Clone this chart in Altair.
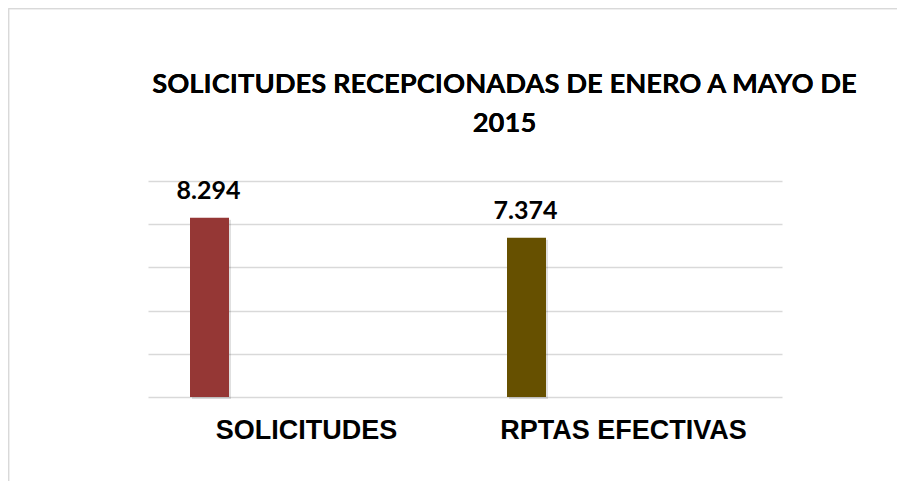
import altair as alt
import pandas as pd

categories = ["SOLICITUDES", "RPTAS EFECTIVAS"]
values = [8294, 7374]
labels = ["8.294", "7.374"]
colors = ["#953735", "#665000"]
y_ticks = [0, 2000, 4000, 6000, 8000, 10000]
title_lines = ["SOLICITUDES RECEPCIONADAS DE ENERO A MAYO DE", "2015"]

df = pd.DataFrame({"cat": categories, "val": values, "lab": labels, "col": colors})

x_enc = alt.X("cat:N", sort=categories, title=None,
              scale=alt.Scale(paddingInner=0, paddingOuter=0),
              axis=alt.Axis(labelAngle=0, labelFont="Liberation Sans", labelFontWeight="bold",
                            labelFontSize=27, labelColor="#000000", labelPadding=20, labelLimit=0,
                            ticks=False, domain=False, grid=False))
y_enc = alt.Y("val:Q", title=None,
              scale=alt.Scale(domain=[0, 10000], nice=False),
              axis=alt.Axis(values=y_ticks, labels=False, ticks=False, domain=False,
                            grid=True, gridColor="#d9d9d9", gridWidth=1.5))

base = alt.Chart(df)

border_top = base.mark_rule(stroke="#d9d9d9", strokeWidth=1.5).encode(
    x=alt.value(-139.5), x2=alt.value(760), y=alt.value(-172.5)
)
border_left = base.mark_rule(stroke="#d9d9d9", strokeWidth=1.5).encode(
    x=alt.value(-139.5), y=alt.value(-172.5), y2=alt.value(310)
)

title1 = base.mark_text(text=title_lines[0], font="Lato", fontWeight="bold", fontSize=27.4,
                        color="#000000", align="center", baseline="alphabetic").encode(
    x=alt.value(356.5), y=alt.value(-88)
)
title2 = base.mark_text(text=title_lines[1], font="Lato", fontWeight="bold", fontSize=27.4,
                        color="#000000", align="center", baseline="alphabetic").encode(
    x=alt.value(356.5), y=alt.value(-49)
)

shadow = base.mark_bar(width=39, xOffset=-95, yOffset=2, color="#000000", opacity=0.12).encode(
    x=x_enc, y=y_enc
)

bars = base.mark_bar(width=39, xOffset=-97).encode(
    x=x_enc, y=y_enc,
    color=alt.Color("col:N", scale=None, legend=None)
)

text = base.mark_text(xOffset=-98, dy=-19, baseline="alphabetic", align="center",
                      font="Lato", fontWeight="bold", fontSize=25, color="#000000").encode(
    x=x_enc, y=y_enc, text="lab:N"
)

chart = alt.layer(border_top, border_left, title1, title2, shadow, bars, text).properties(
    width=634, height=216,
    background="#ffffff",
    autosize=alt.AutoSizeParams(type="none"),
    padding={"left": 140, "top": 173, "right": 115, "bottom": 84},
).configure_view(stroke=None)

chart.save("out.html", embed_options={"renderer": "svg", "actions": False})
